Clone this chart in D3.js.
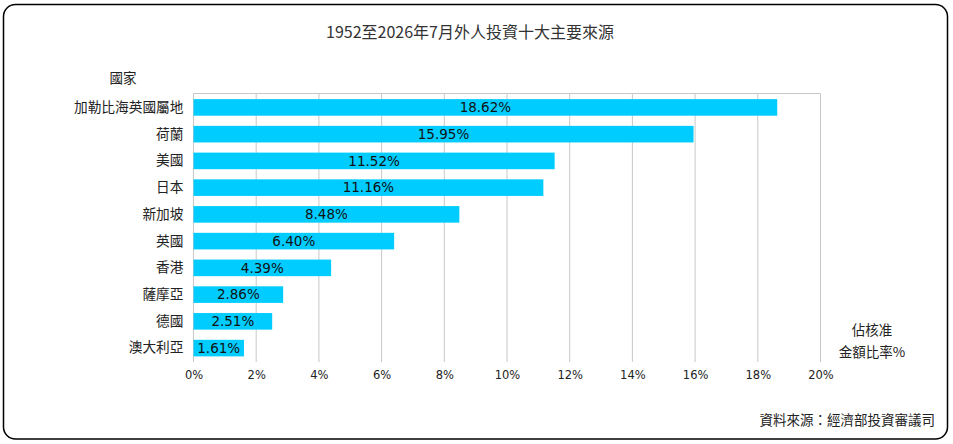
<!DOCTYPE html>
<html>
<head>
<meta charset="utf-8">
<script src="https://cdn.jsdelivr.net/npm/d3@7"></script>
<style>
  body { margin: 0; background: #fff; }
  svg { display: block; }
</style>
</head>
<body>
<div id="chart"></div>
<script>
// data
var countries = ["加勒比海英國屬地", "荷蘭", "美國", "日本", "新加坡", "英國", "香港", "薩摩亞", "德國", "澳大利亞"];
var shares = [18.62, 15.95, 11.52, 11.16, 8.48, 6.40, 4.39, 2.86, 2.51, 1.61];
var xTicks = [0, 2, 4, 6, 8, 10, 12, 14, 16, 18, 20];

var W = 953, H = 444;
var cjk = "'Noto Sans CJK TC', 'Noto Sans', sans-serif";
var num = "'DejaVu Sans', Verdana, sans-serif";

var svg = d3.select("#chart").append("svg")
  .attr("width", W)
  .attr("height", H);

// rounded frame
svg.append("rect")
  .attr("x", 3.5).attr("y", 4.5)
  .attr("width", 944).attr("height", 434.5)
  .attr("rx", 12).attr("ry", 12)
  .attr("fill", "#fff")
  .attr("stroke", "#000")
  .attr("stroke-width", 1.5);

var plot = { left: 193.5, right: 820.5, top: 93.5, bottom: 362 };

var x = d3.scaleLinear().domain([0, 20]).range([plot.left, plot.right]);
var y = d3.scaleBand().domain(countries)
  .range([plot.top, plot.bottom])
  .paddingInner(0.38)
  .paddingOuter(0.21);

// vertical grid lines
svg.append("g").selectAll("line")
  .data(xTicks)
  .enter().append("line")
  .attr("x1", function (d) { return x(d); })
  .attr("x2", function (d) { return x(d); })
  .attr("y1", plot.top)
  .attr("y2", plot.bottom)
  .attr("stroke", "#c8c8c8")
  .attr("stroke-width", 1);

// top border line
svg.append("line")
  .attr("x1", plot.left).attr("x2", plot.right)
  .attr("y1", plot.top).attr("y2", plot.top)
  .attr("stroke", "#c8c8c8");

// x axis labels
var xAxis = svg.append("g")
  .attr("transform", "translate(0," + plot.bottom + ")")
  .call(d3.axisBottom(x).tickValues(xTicks).tickSize(0).tickPadding(9)
    .tickFormat(function (d) { return d + "%"; }));
xAxis.select(".domain").remove();
xAxis.selectAll("text")
  .attr("font-family", num)
  .attr("font-size", 11.5)
  .attr("fill", "#222");

// y axis labels
var yAxis = svg.append("g")
  .attr("transform", "translate(" + plot.left + ",0)")
  .call(d3.axisLeft(y).tickSize(0).tickPadding(10));
yAxis.select(".domain").remove();
yAxis.selectAll("text")
  .attr("font-family", cjk)
  .attr("font-size", 13.7)
  .attr("fill", "#222");

// bars
svg.append("g").selectAll("rect")
  .data(shares)
  .enter().append("rect")
  .attr("x", x(0))
  .attr("y", function (d, i) { return y(countries[i]); })
  .attr("width", function (d) { return x(d) - x(0); })
  .attr("height", y.bandwidth())
  .attr("fill", "#00ccff");

// value labels centred in each bar
svg.append("g").selectAll("text")
  .data(shares)
  .enter().append("text")
  .attr("x", function (d) { return (x(0) + x(d)) / 2; })
  .attr("y", function (d, i) { return y(countries[i]) + y.bandwidth() / 2; })
  .attr("dy", "0.36em")
  .attr("text-anchor", "middle")
  .attr("font-family", num)
  .attr("font-size", 13.5)
  .attr("fill", "#111")
  .text(function (d) { return d.toFixed(2) + "%"; });

// title and notes
svg.append("text")
  .attr("x", 470).attr("y", 38)
  .attr("text-anchor", "middle")
  .attr("font-family", cjk)
  .attr("font-size", 16)
  .attr("fill", "#333")
  .text("1952至2026年7月外人投資十大主要來源");

svg.append("text")
  .attr("x", 123).attr("y", 83)
  .attr("text-anchor", "middle")
  .attr("font-family", cjk)
  .attr("font-size", 13.5)
  .attr("fill", "#222")
  .text("國家");

svg.append("text")
  .attr("x", 872).attr("y", 335)
  .attr("text-anchor", "middle")
  .attr("font-family", cjk)
  .attr("font-size", 13.5)
  .attr("fill", "#222")
  .text("佔核准");

svg.append("text")
  .attr("x", 872).attr("y", 357)
  .attr("text-anchor", "middle")
  .attr("font-family", cjk)
  .attr("font-size", 13.5)
  .attr("fill", "#222")
  .text("金額比率%");

svg.append("text")
  .attr("x", 935).attr("y", 425)
  .attr("text-anchor", "end")
  .attr("font-family", cjk)
  .attr("font-size", 13.5)
  .attr("fill", "#222")
  .text("資料來源：經濟部投資審議司");
</script>
</body>
</html>
